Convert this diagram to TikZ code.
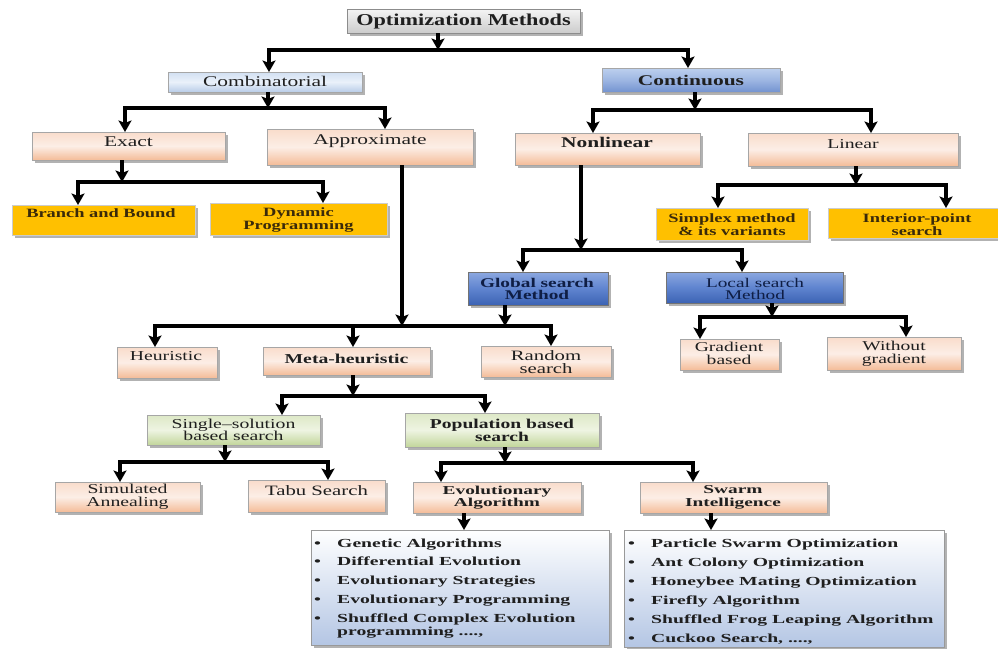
\documentclass[tikz,border=0pt]{standalone}
\usepackage{fontspec}
\setmainfont{Liberation Serif}[FakeStretch=1.45]
\newfontfamily\narrowfont{Liberation Serif}[FakeStretch=1.34]
\newfontfamily\widefont{Liberation Serif}[FakeStretch=1.6]
\usetikzlibrary{arrows.meta,shadows,fit}

\definecolor{grT}{HTML}{F4F4F4}\definecolor{grB}{HTML}{CCCCCC}
\definecolor{lbT}{HTML}{D2E0F2}\definecolor{lbM}{HTML}{EAF1FA}\definecolor{lbB}{HTML}{B9CDE8}
\definecolor{mbT}{HTML}{BDD0EE}\definecolor{mbM}{HTML}{9DB6E2}\definecolor{mbB}{HTML}{7393D0}
\definecolor{pT}{HTML}{F9DCCB}\definecolor{pM}{HTML}{FCEEE6}\definecolor{pB}{HTML}{F4BC98}
\definecolor{goldc}{HTML}{FFC000}
\definecolor{dbT}{HTML}{8CA8E0}\definecolor{dbM}{HTML}{5F84CF}\definecolor{dbB}{HTML}{3C63B4}
\definecolor{gnT}{HTML}{DDE8C6}\definecolor{gnM}{HTML}{EEF4E2}\definecolor{gnB}{HTML}{C2D69B}
\definecolor{lsT}{HTML}{FFFFFF}\definecolor{lsB}{HTML}{B4C6E4}
\definecolor{brownT}{HTML}{3A2A0A}
\definecolor{navyT}{HTML}{0F1E45}

\newcommand{\fT}{\narrowfont\fontsize{16.6}{17}\selectfont\bfseries}
\newcommand{\fA}{\fontsize{14.8}{15}\selectfont}
\newcommand{\fB}{\fontsize{13.6}{12.6}\selectfont}
\newcommand{\fC}{\fontsize{12.7}{12.5}\selectfont}
\newcommand{\fG}{\fontsize{13.3}{12.5}\selectfont}
\newcommand{\fD}{\widefont\fontsize{12.3}{13}\selectfont\bfseries}
\newcommand{\fE}{\widefont\fontsize{12.1}{12.6}\selectfont\bfseries}
\newcommand{\bl}{\makebox[23pt][l]{•}}
\newcommand{\bh}{\makebox[23pt][l]{}}

\begin{document}
\begin{tikzpicture}[x=1pt,y=-1pt,
  bx/.style={inner sep=0pt, outer sep=0pt, draw=black!35, line width=0.6pt,
    drop shadow={shadow xshift=2.5pt, shadow yshift=-2.5pt, fill=black!55, opacity=0.55}},
  graybox/.style={bx, top color=grT, bottom color=grB, draw=black!45},
  lblue/.style={bx, top color=lbT, bottom color=lbB, middle color=lbM},
  mblue/.style={bx, top color=mbT, bottom color=mbB, middle color=mbM},
  peach/.style={bx, top color=pT, bottom color=pB, middle color=pM},
  goldbox/.style={bx, fill=goldc, draw=black!20},
  dblue/.style={bx, top color=dbT, bottom color=dbB, middle color=dbM, draw=black!55},
  green/.style={bx, top color=gnT, bottom color=gnB, middle color=gnM},
  listbox/.style={bx, top color=lsT, bottom color=lsB, draw=black!40},
  lbl/.style={inner sep=0pt, align=center, text=black!88},
  ln/.style={line width=3.3pt, line join=miter},
  arr/.style={ln, -{Stealth[length=11.5pt,width=13pt,inset=2.5pt]}},
  arr2/.style={ln, {Stealth[length=11.5pt,width=13pt,inset=2.5pt]}-{Stealth[length=11.5pt,width=13pt,inset=2.5pt]}}
]
\fill[white] (0,0) rectangle (998,648);
\useasboundingbox (0,0) rectangle (998,648);

% ---------- boxes ----------
\node[graybox, fit={(347,9)(580,33)}] (title) {};
\node[lblue, fit={(168,72)(362,92)}] (comb) {};
\node[mblue, fit={(602,68)(780,92)}] (cont) {};
\node[peach, fit={(32,132)(225,160)}] (exact) {};
\node[peach, fit={(267,129)(473,165)}] (approx) {};
\node[peach, fit={(515,133)(700,165)}] (nonlin) {};
\node[peach, fit={(748,133)(958,166)}] (linear) {};
\node[goldbox, fit={(12,205)(195,235)}] (bb) {};
\node[goldbox, fit={(210,203)(387,235)}] (dp) {};
\node[goldbox, fit={(656,208)(808,240)}] (simplex) {};
\node[goldbox, fit={(828,208)(1000,238)}] (interior) {};
\node[dblue, fit={(468,272)(608,305)}] (global) {};
\node[dblue, fit={(666,272)(843,303)}] (local) {};
\node[peach, fit={(117,347)(217,378)}] (heur) {};
\node[peach, fit={(263,347)(430,375)}] (meta) {};
\node[peach, fit={(481,346)(611,377)}] (random) {};
\node[peach, fit={(680,339)(779,370)}] (gradient) {};
\node[peach, fit={(827,337)(961,370)}] (without) {};
\node[green, fit={(147,415)(320,445)}] (single) {};
\node[green, fit={(405,413)(599,447)}] (pop) {};
\node[peach, fit={(55,482)(200,512)}] (sim) {};
\node[peach, fit={(248,480)(385,512)}] (tabu) {};
\node[peach, fit={(413,482)(581,513)}] (evo) {};
\node[peach, fit={(640,482)(827,513)}] (swarm) {};
\node[listbox, fit={(311,530)(609,645)}] (listL) {};
\node[listbox, fit={(624,530)(944,647)}] (listR) {};

% ---------- labels ----------
\node[lbl, font=\fT] (titleT) at (463.5,21.5) {Optimization Methods};
\node[lbl, font=\fA] (combT) at (265,81) {Combinatorial};
\node[lbl, font=\fA\bfseries] (contT) at (691,80.5) {Continuous};
\node[lbl, font=\fA] (exactT) at (128.5,141.5) {Exact};
\node[lbl, font=\fA] (approxT) at (370,141) {Approximate};
\node[lbl, font=\fA\bfseries] (nonlinT) at (607,142.5) {Nonlinear};
\node[lbl, font=\fontsize{13.6}{14}\selectfont] (linearT) at (853,144) {Linear};
\node[lbl, font=\fC\bfseries, text=brownT] (bbT) at (101,213) {Branch and Bound};
\node[lbl, font=\fC\bfseries, text=brownT] (dpT) at (298.5,220) {Dynamic\\Programming};
\node[lbl, font=\fC\bfseries, text=brownT] (simplexT) at (732,224.5) {Simplex method\\\& its variants};
\node[lbl, font=\fC\bfseries, text=brownT] (interiorT) at (917,224.5) {Interior-point\\search};
\node[lbl, font=\fG\bfseries, text=navyT] (globalT) at (537,289) {Global search\\Method};
\node[lbl, font=\fG, text=navyT] (localT) at (755,289) {Local search\\Method};
\node[lbl, font=\fB] (heurT) at (166,356.5) {Heuristic};
\node[lbl, font=\fB\bfseries] (metaT) at (346.5,359) {Meta-heuristic};
\node[lbl, font=\fontsize{14.3}{12.8}\selectfont] (randomT) at (546,362) {Random\\search};
\node[lbl, font=\fontsize{13.5}{12.5}\selectfont] (gradientT) at (729,353.5) {Gradient\\based};
\node[lbl, font=\fontsize{13.5}{12.7}\selectfont] (withoutT) at (894,354) {Without\\gradient};
\node[lbl, font=\fB] (singleT) at (233.5,430) {Single–solution\\based search};
\node[lbl, font=\fontsize{13.5}{12.3}\selectfont\bfseries] (popT) at (502,430.5) {Population based\\search};
\node[lbl, font=\fB] (simT) at (127.5,497) {Simulated\\Annealing};
\node[lbl, font=\fontsize{14.3}{14}\selectfont] (tabuT) at (316.5,491) {Tabu Search};
\node[lbl, font=\fE] (evoT) at (497,497.5) {Evolutionary\\Algorithm};
\node[lbl, font=\fE] (swarmT) at (733,497.5) {Swarm\\Intelligence};

\node[lbl, font=\fD, align=left, anchor=north west] (listLT) at (314,538.5)
  {\bl Genetic Algorithms\\[5.7pt]
   \bl Differential Evolution\\[5.7pt]
   \bl Evolutionary Strategies\\[5.7pt]
   \bl Evolutionary Programming\\[5.7pt]
   \bl Shuffled Complex Evolution\\
   \bh programming ....,};
\node[lbl, font=\fD, align=left, anchor=north west] (listRT) at (628,539)
  {\bl Particle Swarm Optimization\\[5.9pt]
   \bl Ant Colony Optimization\\[5.9pt]
   \bl Honeybee Mating Optimization\\[5.9pt]
   \bl Firefly Algorithm\\[5.9pt]
   \bl Shuffled Frog Leaping Algorithm\\[5.9pt]
   \bl Cuckoo Search, ....,};

% ---------- junction coordinates ----------
\coordinate (jA) at (438,50);  \coordinate (jAl) at (269,50);  \coordinate (jAr) at (688,50);
\coordinate (jB) at (268,108); \coordinate (jBl) at (125,108); \coordinate (jBr) at (385,108);
\coordinate (jC) at (695,110); \coordinate (jCl) at (593,110); \coordinate (jCr) at (871,110);
\coordinate (jD) at (122,182); \coordinate (jDl) at (78,182);  \coordinate (jDr) at (323,182);
\coordinate (jE) at (856,185); \coordinate (jEl) at (718,185); \coordinate (jEr) at (946,185);
\coordinate (jF) at (581,250); \coordinate (jFl) at (523,250); \coordinate (jFr) at (742,250);
\coordinate (jG) at (402,326); \coordinate (jGg) at (505,326);
\coordinate (jGl) at (155,326); \coordinate (jGm) at (353,326); \coordinate (jGr) at (551,326);
\coordinate (jH) at (772,317); \coordinate (jHl) at (700,317); \coordinate (jHr) at (906,317);
\coordinate (jI) at (353,396); \coordinate (jIl) at (282,396); \coordinate (jIr) at (485,396);
\coordinate (jJ) at (225,462); \coordinate (jJl) at (120,462); \coordinate (jJr) at (328,462);
\coordinate (jK) at (505,463); \coordinate (jKl) at (441,463); \coordinate (jKr) at (693,463);
\coordinate (jL) at (464,513); \coordinate (jM) at (711,513);

% ---------- connectors ----------
\draw[arr] (title.south -| jA) -- (jA);
\draw[arr2] (jAl |- comb.north) -- (jAl) -- (jAr) -- (jAr |- cont.north);

\draw[arr] (comb.south -| jB) -- (jB);
\draw[arr2] (jBl |- exact.north) -- (jBl) -- (jBr) -- (jBr |- approx.north);

\draw[arr] (cont.south -| jC) -- (jC);
\draw[arr2] (jCl |- nonlin.north) -- (jCl) -- (jCr) -- (jCr |- linear.north);

\draw[arr] (exact.south -| jD) -- (jD);
\draw[arr2] (jDl |- bb.north) -- (jDl) -- (jDr) -- (jDr |- dp.north);

\draw[arr] (linear.south -| jE) -- (jE);
\draw[arr2] (jEl |- simplex.north) -- (jEl) -- (jEr) -- (jEr |- interior.north);

\draw[arr] (nonlin.south -| jF) -- (jF);
\draw[arr2] (jFl |- global.north) -- (jFl) -- (jFr) -- (jFr |- local.north);

\draw[arr] (approx.south -| jG) -- (jG);
\draw[arr] (global.south -| jGg) -- (jGg);
\draw[arr2] (jGl |- heur.north) -- (jGl) -- (jGr) -- (jGr |- random.north);
\draw[arr] (jGm) -- (jGm |- meta.north);

\draw[arr] (local.south -| jH) -- (jH);
\draw[arr2] (jHl |- gradient.north) -- (jHl) -- (jHr) -- (jHr |- without.north);

\draw[arr] (meta.south -| jI) -- (jI);
\draw[arr2] (jIl |- single.north) -- (jIl) -- (jIr) -- (jIr |- pop.north);

\draw[arr] (single.south -| jJ) -- (jJ);
\draw[arr2] (jJl |- sim.north) -- (jJl) -- (jJr) -- (jJr |- tabu.north);

\draw[arr] (pop.south -| jK) -- (jK);
\draw[arr2] (jKl |- evo.north) -- (jKl) -- (jKr) -- (jKr |- swarm.north);

\draw[arr] (jL) -- (jL |- listL.north);
\draw[arr] (jM) -- (jM |- listR.north);
\end{tikzpicture}
\end{document}
